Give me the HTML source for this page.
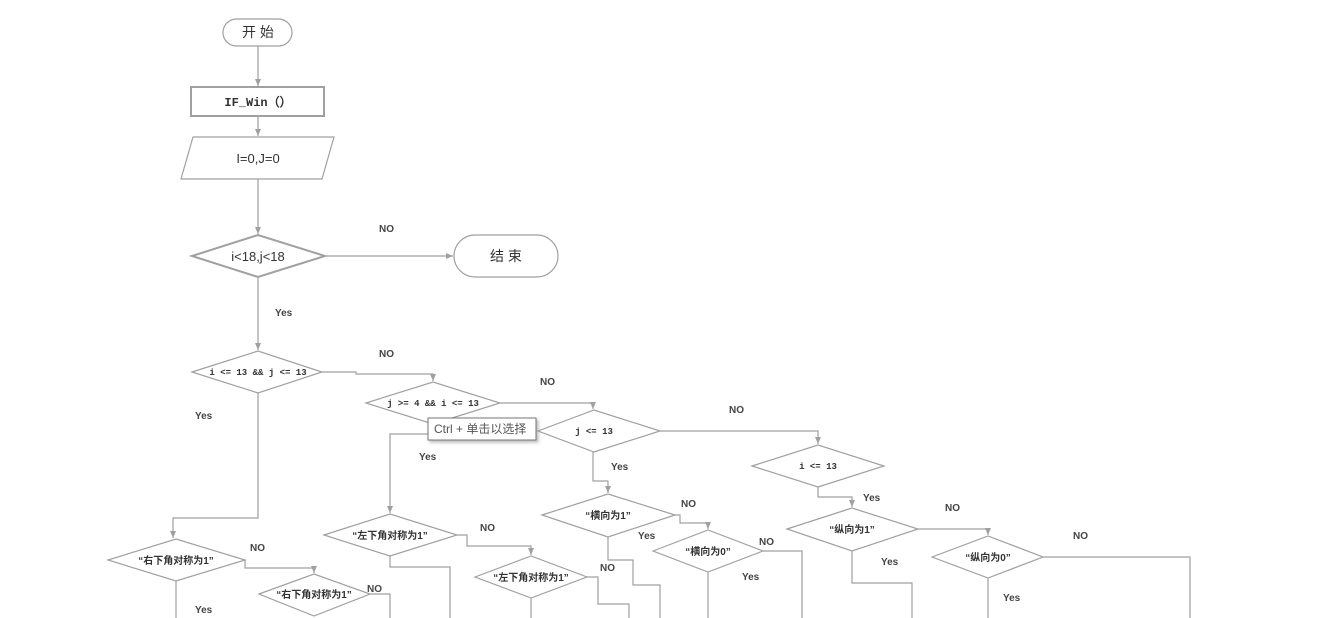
<!DOCTYPE html>
<html><head><meta charset="utf-8"><style>
html,body{margin:0;padding:0;background:#fff;}
svg{display:block}
text{font-family:"Liberation Sans","Noto Sans CJK SC",sans-serif;fill:#333}
.l{font-size:10px;font-weight:bold;fill:#444}
.m{font-family:"Liberation Mono","Noto Sans CJK SC",monospace;font-size:9px;font-weight:bold}
.c{font-size:10px;font-weight:bold}
</style></head><body>
<svg width="1325" height="618" viewBox="0 0 1325 618" xmlns="http://www.w3.org/2000/svg">
<defs>
<marker id="a" markerWidth="8" markerHeight="8" refX="7" refY="4" orient="auto" markerUnits="userSpaceOnUse">
<path d="M0,1 L7,4 L0,7 z" fill="#a0a0a0"/></marker>
<filter id="sh" x="-10%" y="-10%" width="130%" height="150%"><feDropShadow dx="2" dy="2" stdDeviation="1.5" flood-color="#888" flood-opacity="0.6"/></filter>
</defs>
<g fill="none" stroke="#a0a0a0" stroke-width="1.2">
<!-- start / end -->
<rect x="223" y="19" width="69" height="27" rx="13.5" fill="#fff"/>
<rect x="454" y="235" width="104" height="42" rx="21" fill="#fff"/>
<rect x="191" y="87" width="133" height="29" stroke-width="2" fill="#fff"/>
<polygon points="193,137 334,137 322,179 181,179" fill="#fff"/>
<polygon points="192,256 258,235 325,256 258,277" stroke-width="2" fill="#fff"/>
<!-- main connectors -->
<line x1="258" y1="46" x2="258" y2="86" marker-end="url(#a)"/>
<line x1="258" y1="116" x2="258" y2="136" marker-end="url(#a)"/>
<line x1="258" y1="179" x2="258" y2="234" marker-end="url(#a)"/>
<line x1="325" y1="256" x2="453" y2="256" marker-end="url(#a)"/>
<line x1="258" y1="277" x2="258" y2="350" marker-end="url(#a)"/>
<!-- diamonds -->
<polygon points="192,372 258,351 322,372 258,393"/>
<polygon points="366,403 433,382 500,403 433,424"/>
<polygon points="538,431 594,410 660,431 594,452"/>
<polygon points="752,466 818,445 884,466 818,487"/>
<polygon points="108,560 176,539 245,560 176,581"/>
<polygon points="259,594 314,574 370,594 314,616"/>
<polygon points="324,535 390,514 457,535 390,556"/>
<polygon points="475,577 531,556 587,577 531,598"/>
<polygon points="542,515 608,494 675,515 608,537"/>
<polygon points="653,551 708,530 763,551 708,572"/>
<polygon points="787,529 852,508 918,529 852,551"/>
<polygon points="932,557 988,536 1043,557 988,578"/>
<!-- connectors -->
<polyline points="322,372 356,372 356,374 433,374 433,381" marker-end="url(#a)"/>
<polyline points="500,403 593,403 593,409" marker-end="url(#a)"/>
<polyline points="660,431 818,431 818,444" marker-end="url(#a)"/>
<polyline points="818,487 818,497 852,497 852,507" marker-end="url(#a)"/>
<polyline points="918,529 988,529 988,535" marker-end="url(#a)"/>
<polyline points="1043,557 1190,557 1190,618"/>
<line x1="988" y1="578" x2="988" y2="618"/>
<polyline points="852,551 852,583 912,583 912,618"/>
<polyline points="593,452 593,481 608,481 608,493" marker-end="url(#a)"/>
<polyline points="675,515 680,515 680,523 708,523 708,529" marker-end="url(#a)"/>
<polyline points="763,551 802,551 802,618"/>
<line x1="708" y1="572" x2="708" y2="618"/>
<polyline points="608,537 608,560 633,560 633,585 660,585 660,618"/>
<polyline points="428,434 390,434 390,513" marker-end="url(#a)"/>
<polyline points="457,535 467,535 467,546 531,546 531,555" marker-end="url(#a)"/>
<polyline points="587,577 598,577 598,604 629,604 629,618"/>
<line x1="531" y1="598" x2="531" y2="618"/>
<polyline points="390,556 390,567 450,567 450,618"/>
<polyline points="258,393 258,518 173,518 173,538" marker-end="url(#a)"/>
<polyline points="245,560 245,568 314,568 314,573" marker-end="url(#a)"/>
<polyline points="370,594 390,594 390,618"/>
<line x1="176" y1="581" x2="176" y2="618"/>
</g>
<!-- tooltip -->
<rect x="428" y="418" width="108" height="22" fill="#fff" stroke="#777" stroke-width="1" filter="url(#sh)"/>
<text x="434" y="433" style="font-size:12px;fill:#555">Ctrl + 单击以选择</text>
<!-- text -->
<text x="258" y="37" text-anchor="middle" style="font-size:14px">开 始</text>
<text x="506" y="261" text-anchor="middle" style="font-size:14px">结 束</text>
<text x="258" y="106" text-anchor="middle" style="font-family:'Liberation Mono',monospace;font-size:12px;font-weight:bold">IF_Win（）</text>
<text x="258" y="163" text-anchor="middle" style="font-size:13px">I=0,J=0</text>
<text x="258" y="261" text-anchor="middle" style="font-size:13px">i&lt;18,j&lt;18</text>
<text class="m" x="258" y="375" text-anchor="middle">i &lt;= 13 &amp;&amp; j &lt;= 13</text>
<text class="m" x="433" y="406" text-anchor="middle">j &gt;= 4 &amp;&amp; i &lt;= 13</text>
<text class="m" x="594" y="434" text-anchor="middle">j &lt;= 13</text>
<text class="m" x="818" y="469" text-anchor="middle">i &lt;= 13</text>
<text class="c" x="176" y="564" text-anchor="middle">“右下角对称为1”</text>
<text class="c" x="314" y="598" text-anchor="middle">“右下角对称为1”</text>
<text class="c" x="390" y="539" text-anchor="middle">“左下角对称为1”</text>
<text class="c" x="531" y="581" text-anchor="middle">“左下角对称为1”</text>
<text class="c" x="608" y="519" text-anchor="middle">“横向为1”</text>
<text class="c" x="708" y="555" text-anchor="middle">“横向为0”</text>
<text class="c" x="852" y="533" text-anchor="middle">“纵向为1”</text>
<text class="c" x="988" y="561" text-anchor="middle">“纵向为0”</text>
<text class="l" x="379" y="232">NO</text>
<text class="l" x="275" y="316">Yes</text>
<text class="l" x="379" y="357">NO</text>
<text class="l" x="195" y="419">Yes</text>
<text class="l" x="540" y="385">NO</text>
<text class="l" x="419" y="460">Yes</text>
<text class="l" x="729" y="413">NO</text>
<text class="l" x="611" y="470">Yes</text>
<text class="l" x="863" y="501">Yes</text>
<text class="l" x="945" y="511">NO</text>
<text class="l" x="1073" y="539">NO</text>
<text class="l" x="881" y="565">Yes</text>
<text class="l" x="1003" y="601">Yes</text>
<text class="l" x="681" y="507">NO</text>
<text class="l" x="638" y="539">Yes</text>
<text class="l" x="759" y="545">NO</text>
<text class="l" x="742" y="580">Yes</text>
<text class="l" x="480" y="531">NO</text>
<text class="l" x="600" y="571">NO</text>
<text class="l" x="250" y="551">NO</text>
<text class="l" x="367" y="592">NO</text>
<text class="l" x="195" y="613">Yes</text>
</svg>
</body></html>
